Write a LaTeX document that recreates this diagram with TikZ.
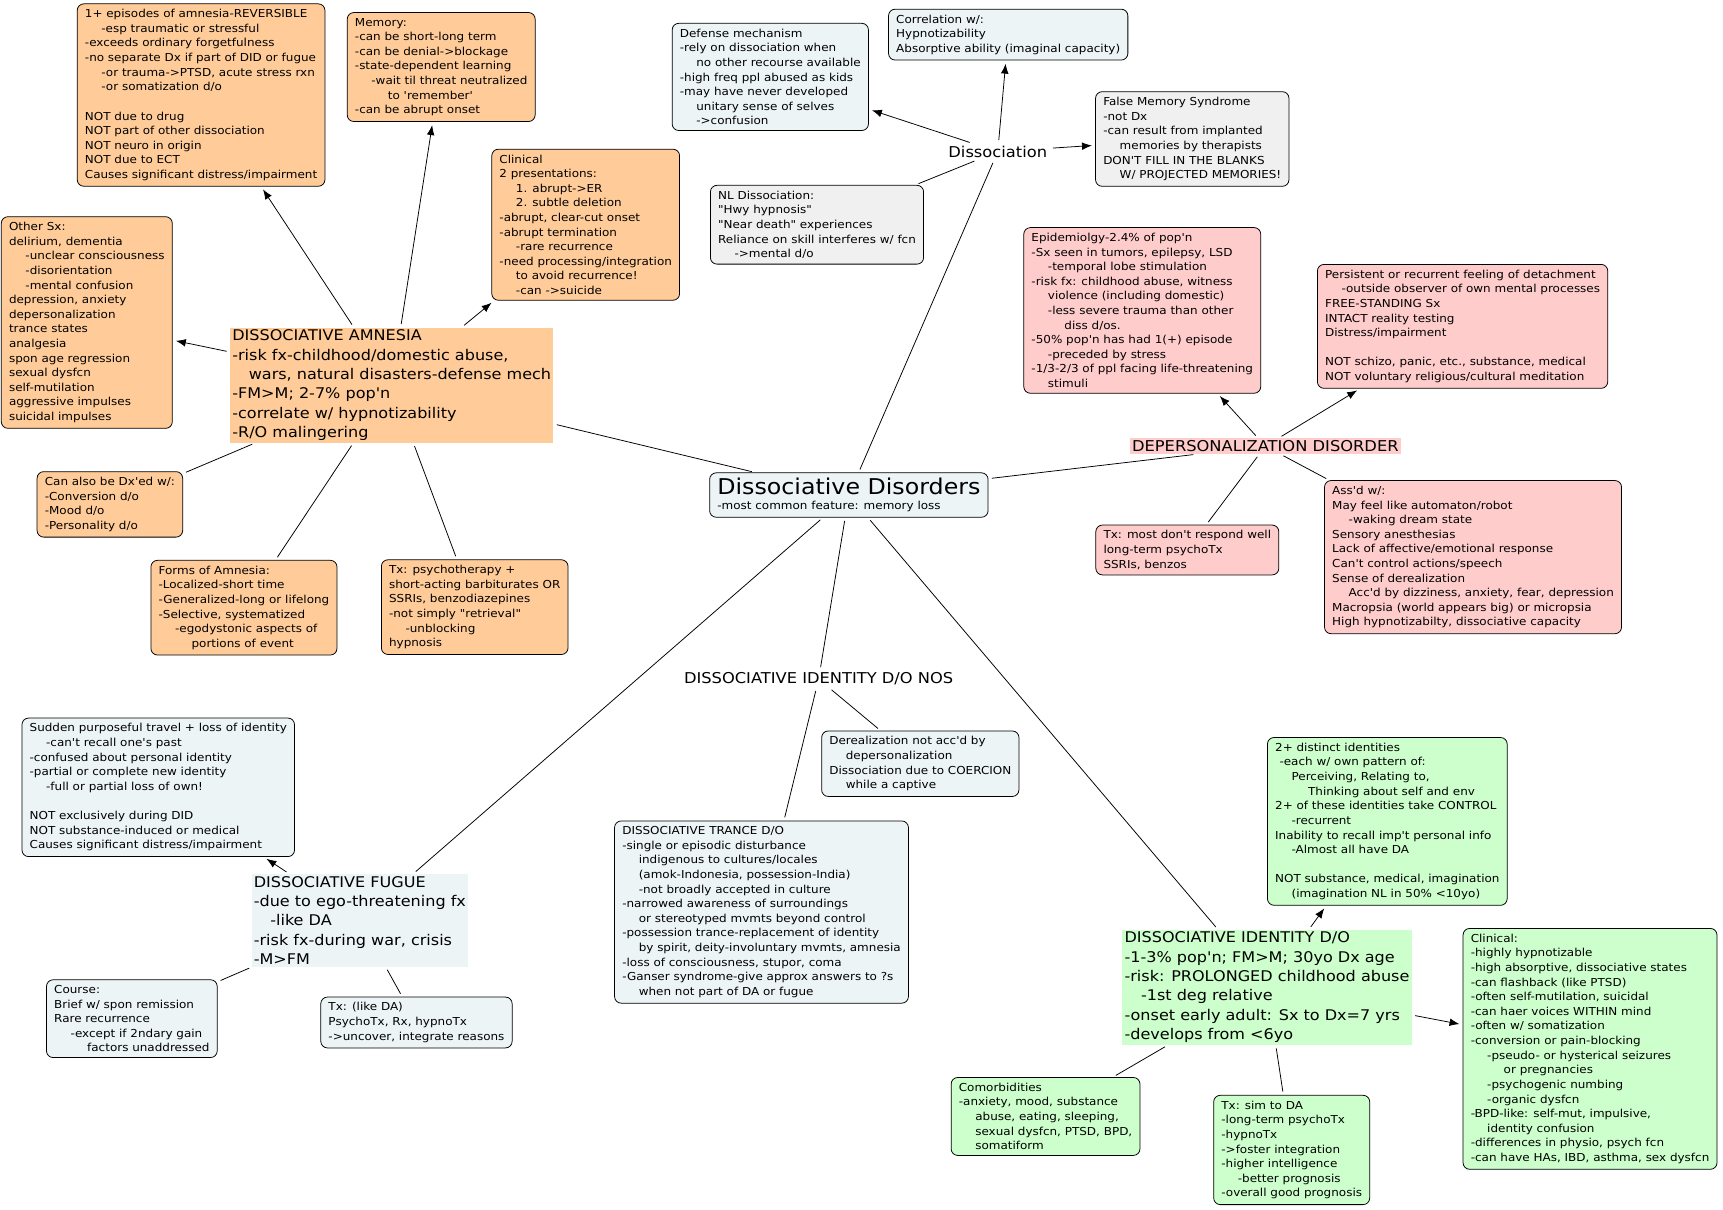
\documentclass[tikz,border=0pt]{standalone}
\usepackage{fontspec}
\setmainfont[Ligatures=TeXOff, FakeStretch=1.09]{DejaVu Sans}
\usetikzlibrary{arrows.meta}
\definecolor{amnorange}{HTML}{FFCC99}
\definecolor{deppink}{HTML}{FFCCCC}
\definecolor{didgreen}{HTML}{CCFFCC}
\definecolor{cmapblue}{HTML}{EDF4F6}
\definecolor{cmapgray}{HTML}{F0F0F0}
\newcommand{\idt}{\hspace*{15pt}}
\newcommand{\idtt}{\hspace*{30pt}}
\newcommand{\idh}{\hspace*{4pt}}

\begin{document}
\begin{tikzpicture}[x=1pt, y=-1pt,
    every node/.style={font=\fontsize{10}{13.3}\selectfont, align=left},
    concept/.style={draw, rounded corners=6pt, line width=0.7pt, inner xsep=7pt, inner ysep=5pt},
    amn/.style={concept, fill=amnorange},
    dep/.style={concept, fill=deppink},
    did/.style={concept, fill=didgreen},
    gen/.style={concept, fill=cmapblue},
    nl/.style={concept, fill=cmapgray},
    head/.style={inner sep=2pt, font=\fontsize{13.4}{17.6}\selectfont},
    label/.style={inner sep=2pt, font=\fontsize{13.6}{16}\selectfont},
    link/.style={line width=0.7pt, shorten >=3pt, shorten <=3pt},
    >={Latex[length=9pt,width=7pt]}]
  \useasboundingbox (0,0) rectangle (1568,1101);

  \node[gen] (dd) at (772.5,450.5) {{\fontsize{19.8}{23}\selectfont Dissociative Disorders}\\-most common feature: memory loss};

  \node[head, fill=amnorange] (da) at (356.5,350.5) {DISSOCIATIVE AMNESIA\\-risk fx-childhood/domestic abuse,\\\idt wars, natural disasters-defense mech\\-FM>M; 2-7\% pop'n\\-correlate w/ hypnotizability\\-R/O malingering};
  \node[amn] (da_crit) at (183,86.5) {1+ episodes of amnesia-REVERSIBLE\\\idt -esp traumatic or stressful\\-exceeds ordinary forgetfulness\\-no separate Dx if part of DID or fugue\\\idt -or trauma->PTSD, acute stress rxn\\\idt -or somatization d/o\\\mbox{}\\NOT due to drug\\NOT part of other dissociation\\NOT neuro in origin\\NOT due to ECT\\Causes significant distress/impairment};
  \node[amn] (da_mem) at (401.5,61) {Memory:\\-can be short-long term\\-can be denial->blockage\\-state-dependent learning\\\idt -wait til threat neutralized\\\idtt to 'remember'\\-can be abrupt onset};
  \node[amn] (da_clin) at (533,204.5) {Clinical\\2 presentations:\\\idt 1. abrupt->ER\\\idt 2. subtle deletion\\-abrupt, clear-cut onset\\-abrupt termination\\\idt -rare recurrence\\-need processing/integration\\\idt to avoid recurrence!\\\idt -can ->suicide};
  \node[amn] (da_sx) at (79,293.5) {Other Sx:\\delirium, dementia\\\idt -unclear consciousness\\\idt -disorientation\\\idt -mental confusion\\depression, anxiety\\depersonalization\\trance states\\analgesia\\spon age regression\\sexual dysfcn\\self-mutilation\\aggressive impulses\\suicidal impulses};
  \node[amn] (da_also) at (100,459) {Can also be Dx'ed w/:\\-Conversion d/o\\-Mood d/o\\-Personality d/o};
  \node[amn] (da_forms) at (222,553) {Forms of Amnesia:\\-Localized-short time\\-Generalized-long or lifelong\\-Selective, systematized\\\idt -egodystonic aspects of\\\idtt portions of event};
  \node[amn] (da_tx) at (432,552.5) {Tx: psychotherapy +\\short-acting barbiturates OR\\SSRIs, benzodiazepines\\-not simply "retrieval"\\\idt -unblocking\\hypnosis};

  \node[label] (diss) at (908,138) {Dissociation};
  \node[gen] (diss_def) at (701,70) {Defense mechanism\\-rely on dissociation when\\\idt no other recourse available\\-high freq ppl abused as kids\\-may have never developed\\\idt unitary sense of selves\\\idt ->confusion};
  \node[gen] (diss_cor) at (917.5,31.5) {Correlation w/:\\Hypnotizability\\Absorptive ability (imaginal capacity)};
  \node[nl] (diss_fms) at (1085,126.5) {False Memory Syndrome\\-not Dx\\-can result from implanted\\\idt memories by therapists\\DON'T FILL IN THE BLANKS\\\idt W/ PROJECTED MEMORIES!};
  \node[nl] (diss_nl) at (743.5,204.5) {NL Dissociation:\\"Hwy hypnosis"\\"Near death" experiences\\Reliance on skill interferes w/ fcn\\\idt ->mental d/o};

  \node[label, fill=deppink] (dep) at (1151.5,406) {DEPERSONALIZATION DISORDER};
  \node[dep] (dep_epi) at (1039.5,282.5) {Epidemiolgy-2.4\% of pop'n\\-Sx seen in tumors, epilepsy, LSD\\\idt -temporal lobe stimulation\\-risk fx: childhood abuse, witness\\\idt violence (including domestic)\\\idt -less severe trauma than other\\\idtt diss d/os.\\-50\% pop'n has had 1(+) episode\\\idt -preceded by stress\\-1/3-2/3 of ppl facing life-threatening\\\idt stimuli};
  \node[dep] (dep_det) at (1331,297) {Persistent or recurrent feeling of detachment\\\idt -outside observer of own mental processes\\FREE-STANDING Sx\\INTACT reality testing\\Distress/impairment\\\mbox{}\\NOT schizo, panic, etc., substance, medical\\NOT voluntary religious/cultural meditation};
  \node[dep] (dep_tx) at (1080.5,500.5) {Tx: most don't respond well\\long-term psychoTx\\SSRIs, benzos};
  \node[dep] (dep_ass) at (1340.5,507) {Ass'd w/:\\May feel like automaton/robot\\\idt -waking dream state\\Sensory anesthesias\\Lack of affective/emotional response\\Can't control actions/speech\\Sense of derealization\\\idt Acc'd by dizziness, anxiety, fear, depression\\Macropsia (world appears big) or micropsia\\High hypnotizabilty, dissociative capacity};

  \node[label] (nos) at (745,618) {DISSOCIATIVE IDENTITY D/O NOS};
  \node[gen] (nos_der) at (837.5,695) {Derealization not acc'd by\\\idt depersonalization\\Dissociation due to COERCION\\\idt while a captive};
  \node[gen] (trance) at (693,830) {DISSOCIATIVE TRANCE D/O\\-single or episodic disturbance\\\idt indigenous to cultures/locales\\\idt (amok-Indonesia, possession-India)\\\idt -not broadly accepted in culture\\-narrowed awareness of surroundings\\\idt or stereotyped mvmts beyond control\\-possession trance-replacement of identity\\\idt by spirit, deity-involuntary mvmts, amnesia\\-loss of consciousness, stupor, coma\\-Ganser syndrome-give approx answers to ?s\\\idt when not part of DA or fugue};

  \node[head, fill=cmapblue] (fug) at (327.5,837.5) {DISSOCIATIVE FUGUE\\-due to ego-threatening fx\\\idt -like DA\\-risk fx-during war, crisis\\-M>FM};
  \node[gen] (fug_crit) at (144,716.5) {Sudden purposeful travel + loss of identity\\\idt -can't recall one's past\\-confused about personal identity\\-partial or complete new identity\\\idt -full or partial loss of own!\\\mbox{}\\NOT exclusively during DID\\NOT substance-induced or medical\\Causes significant distress/impairment};
  \node[gen] (fug_course) at (120,927) {Course:\\Brief w/ spon remission\\Rare recurrence\\\idt -except if 2ndary gain\\\idtt factors unaddressed};
  \node[gen] (fug_tx) at (379,930.5) {Tx: (like DA)\\PsychoTx, Rx, hypnoTx\\->uncover, integrate reasons};

  \node[head, fill=didgreen] (did) at (1153,898.5) {DISSOCIATIVE IDENTITY D/O\\-1-3\% pop'n; FM>M; 30yo Dx age\\-risk: PROLONGED childhood abuse\\\idt -1st deg relative\\-onset early adult: Sx to Dx=7 yrs\\-develops from <6yo};
  \node[did] (did_id) at (1262.5,747.5) {2+ distinct identities\\\idh -each w/ own pattern of:\\\idt Perceiving, Relating to,\\\idtt Thinking about self and env\\2+ of these identities take CONTROL\\\idt -recurrent\\Inability to recall imp't personal info\\\idt -Almost all have DA\\\mbox{}\\NOT substance, medical, imagination\\\idt (imagination NL in 50\% <10yo)};
  \node[did] (did_clin) at (1447,954.5) {Clinical:\\-highly hypnotizable\\-high absorptive, dissociative states\\-can flashback (like PTSD)\\-often self-mutilation, suicidal\\-can haer voices WITHIN mind\\-often w/ somatization\\-conversion or pain-blocking\\\idt -pseudo- or hysterical seizures\\\idtt or pregnancies\\\idt -psychogenic numbing\\\idt -organic dysfcn\\-BPD-like: self-mut, impulsive,\\\idt identity confusion\\-differences in physio, psych fcn\\-can have HAs, IBD, asthma, sex dysfcn};
  \node[did] (did_com) at (951.5,1016) {Comorbidities\\-anxiety, mood, substance\\\idt abuse, eating, sleeping,\\\idt sexual dysfcn, PTSD, BPD,\\\idt somatiform};
  \node[did] (did_tx) at (1175.5,1046.5) {Tx: sim to DA\\-long-term psychoTx\\-hypnoTx\\->foster integration\\-higher intelligence\\\idt -better prognosis\\-overall good prognosis};

  \path[link]
    (dd) edge (da)
         edge (diss)
         edge (dep)
         edge (fug)
         edge (nos)
         edge (did)
    (da) edge (da_also)
         edge (da_forms)
         edge (da_tx)
    (diss) edge (diss_nl)
    (dep) edge (dep_tx)
          edge (dep_ass)
    (nos) edge (nos_der)
          edge (trance)
    (fug) edge (fug_course)
          edge (fug_tx)
    (did) edge (did_com)
          edge (did_tx);
  \path[link, ->]
    (da) edge (da_crit)
         edge (da_mem)
         edge (da_clin)
         edge (da_sx)
    (diss) edge (diss_def)
           edge (diss_cor)
           edge (diss_fms)
    (dep) edge (dep_epi)
          edge (dep_det)
    (fug) edge (fug_crit)
    (did) edge (did_id)
          edge (did_clin);
\end{tikzpicture}
\end{document}
